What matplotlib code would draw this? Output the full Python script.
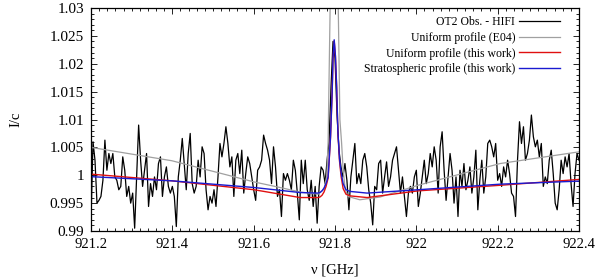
import numpy as np
import matplotlib
matplotlib.use("Agg")
import matplotlib.pyplot as plt
from matplotlib.ticker import MultipleLocator, FuncFormatter

plt.rcParams['font.family'] = ['Liberation Serif', 'DejaVu Serif']

obs = [
    0.9920, 1.0060, 1.0027, 0.9950, 0.9955, 0.9962, 0.9991, 1.0063, 1.0009, 1.0039,
    1.0021, 1.0039, 0.9997, 0.9991, 0.9974, 0.9980, 1.0033, 1.0009, 0.9962, 0.9980,
    0.9950, 0.9968, 0.9905, 0.9997, 1.0090, 1.0027, 0.9980, 1.0009, 1.0039, 0.9944,
    0.9985, 0.9962, 0.9997, 0.9974, 1.0021, 1.0033, 0.9962, 0.9997, 1.0015, 0.9980,
    0.9968, 0.9980, 0.9962, 0.9908, 0.9997, 1.0027, 1.0066, 1.0021, 0.9974, 1.0039,
    1.0075, 0.9985, 0.9968, 0.9980, 1.0027, 0.9997, 1.0051, 1.0039, 0.9974, 0.9938,
    0.9962, 0.9950, 0.9974, 0.9944, 0.9997, 1.0057, 1.0033, 1.0057, 1.0087, 1.0057,
    1.0015, 1.0033, 0.9962, 1.0027, 1.0039, 1.0003, 1.0045, 0.9968, 1.0003, 1.0033,
    1.0021, 0.9997,
    0.9974, 0.9955, 1.0009, 1.0015, 1.0027, 1.0072, 1.0057, 1.0045, 1.0027, 0.9985,
    1.0051, 1.0015, 0.9962, 0.9974, 0.9926, 1.0003, 0.9991, 1.0003, 0.9991, 0.9974,
    1.0027, 1.0009, 0.9968, 0.9920, 1.0027, 0.9985, 1.0027, 0.9974, 0.9955, 0.9991,
    0.9944, 0.9980, 0.9914, 0.9980, 1.0015, 1.0009, 0.9985, 1.0027,
    1.0060, 1.0160, 1.0240, 1.0210, 1.0110, 1.0045, 1.0015,
    0.9997, 1.0021, 0.9991, 0.9938, 0.9997, 1.0027, 1.0057, 0.9985, 1.0003, 0.9985,
    1.0027, 1.0039, 1.0015, 0.9974, 0.9950, 0.9911, 0.9980, 0.9974, 1.0021, 1.0027,
    0.9968, 0.9997, 1.0024, 0.9980, 0.9997, 1.0027, 1.0039, 1.0051, 1.0009, 0.9968,
    0.9997, 0.9962, 0.9926, 0.9968, 0.9980, 0.9968, 0.9997, 1.0009,
    0.9944, 0.9968, 0.9997, 1.0027, 0.9985, 1.0003, 1.0039, 1.0015, 1.0051, 1.0027,
    0.9968, 1.0051, 1.0078, 1.0009, 0.9955, 0.9997, 1.0039, 1.0009, 0.9950, 0.9997,
    0.9926, 1.0009, 0.9980, 1.0021, 0.9974, 0.9991, 1.0015, 0.9968, 0.9997, 1.0045,
    0.9938, 0.9991, 1.0027, 0.9968, 0.9997, 1.0057, 1.0063, 1.0051, 1.0033, 1.0057,
    0.9991,
    1.0003, 0.9980, 1.0015, 0.9997, 1.0027, 1.0003, 0.9968, 0.9962, 0.9926, 1.0027,
    1.0096, 1.0057, 1.0087, 1.0027, 1.0039, 1.0063, 1.0108, 1.0069, 1.0051, 1.0063,
    1.0033, 1.0057, 0.9980, 0.9997, 0.9985, 1.0027, 1.0045, 1.0003, 0.9950, 0.9938,
    0.9974, 1.0027, 1.0003, 1.0033, 1.0015, 1.0039, 0.9985, 0.9944, 1.0003, 1.0039,
    1.0027,
]
freq = np.linspace(921.2, 922.4, len(obs))

# models
mod_f = [921.200, 921.399, 921.601, 921.714, 921.758, 921.763, 921.768, 921.773,
         921.778, 921.783, 921.785, 921.789, 921.793, 921.795, 921.798, 921.801,
         921.804, 921.807, 921.811, 921.815, 921.820, 921.827, 921.837, 921.879,
         922.004, 922.206, 922.400]
strat = [0.99975, 0.9990, 0.9978, 0.9969, 0.9968, 0.9969, 0.9972, 0.9977,
         0.9985, 0.9997, 1.0020, 1.0070, 1.0150, 1.0210, 1.0243, 1.0215,
         1.0160, 1.0080, 1.0030, 1.0005, 0.9985, 0.9974, 0.9971, 0.9968,
         0.9974, 0.9984, 0.99895]
unif = [1.0002, 0.9990, 0.9974, 0.9960, 0.9960, 0.9961, 0.9964, 0.9970,
        0.9980, 0.9995, 1.0018, 1.0068, 1.0148, 1.0208, 1.0241, 1.0213,
        1.0158, 1.0078, 1.0026, 0.9998, 0.9976, 0.9966, 0.9963, 0.9960,
        0.9972, 0.9982, 0.99925]

e04_f = [921.200, 921.399, 921.601, 921.665, 921.714, 921.758, 921.773, 921.780,
         921.783, 921.788, 921.798, 921.808, 921.812, 921.816, 921.820, 921.825,
         921.832, 921.861, 921.911, 922.004, 922.206, 922.400]
e04 = [1.0050, 1.0026, 0.9988, 0.9978, 0.9970, 0.9966, 0.9975, 1.0000,
       1.0060, 1.0300, 1.0500, 1.0300, 1.0100, 1.0060, 1.0010, 0.9975,
       0.9962, 0.9956, 0.9961, 0.9982, 1.0021, 1.0042]

fig = plt.figure(figsize=(6, 2.8), dpi=100)
ax = fig.add_axes([0.1517, 0.175, 0.8133, 0.7964])

ax.plot(freq, obs, color='black', lw=0.9, label='OT2 Obs. - HIFI')
ax.plot(e04_f, e04, color='#a0a0a0', lw=0.9, label='Uniform profile (E04)')
ax.plot(mod_f, unif, color='#e01010', lw=1.0, label='Uniform profile (this work)')
ax.plot(mod_f, strat, color='#1a1ad0', lw=1.0, label='Stratospheric profile (this work)')

ax.set_xlim(921.2, 922.4)
ax.set_ylim(0.99, 1.03)
ax.xaxis.set_major_locator(MultipleLocator(0.2))
ax.xaxis.set_minor_locator(MultipleLocator(0.02))
ax.yaxis.set_major_locator(MultipleLocator(0.005))
ax.yaxis.set_minor_locator(MultipleLocator(0.001))
fmt = FuncFormatter(lambda v, p: '%g' % round(v, 4))
ax.xaxis.set_major_formatter(fmt)
ax.yaxis.set_major_formatter(fmt)
ax.tick_params(which='both', direction='in', top=True, right=True, width=0.6)
ax.tick_params(axis='x', labelsize=10.5)
ax.tick_params(axis='y', labelsize=11)
ax.tick_params(which='major', length=4, pad=5)
ax.tick_params(which='minor', length=2)
for s in ax.spines.values():
    s.set_linewidth(0.9)

ax.set_xlabel('ν [GHz]', fontsize=10.5, labelpad=9)
ax.set_ylabel('I/c', fontsize=10.5, labelpad=20)

ax.legend(loc='upper right', bbox_to_anchor=(0.961, 0.962), frameon=False,
          markerfirst=False, fontsize=8.5, handlelength=3.5, handletextpad=0.3,
          labelspacing=0.3, borderpad=0, borderaxespad=0)

fig.savefig('out.png', dpi=100)
